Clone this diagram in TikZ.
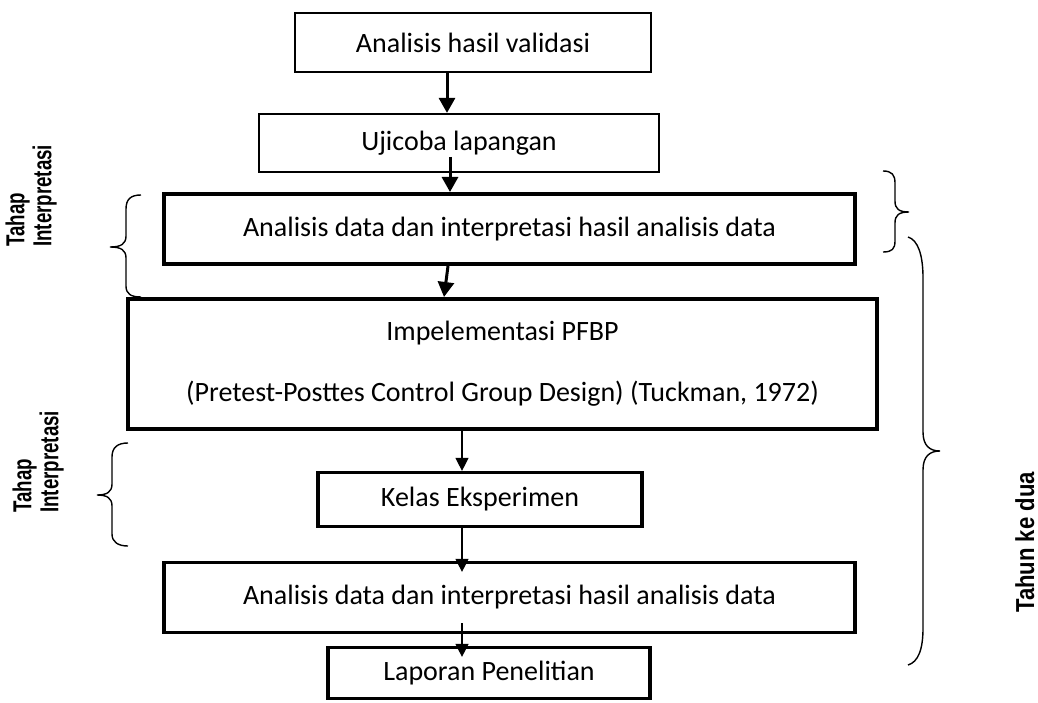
\documentclass[tikz,border=0pt]{standalone}
\usepackage{fontspec}
\usetikzlibrary{arrows.meta,calc}
\newfontfamily\boxfont{Carlito}
\newfontfamily\labfont{Liberation Sans}
\begin{document}
\begin{tikzpicture}[x=1pt,y=-1pt,
  box/.style={draw, line width=#1, inner sep=0pt, align=center,
    font=\boxfont\fontsize{28}{34}\selectfont},
  box/.default=2.2pt,
  heavyarrow/.style={line width=3pt, -{Triangle[length=15pt,width=16pt]}},
  lightarrow/.style={line width=1.3pt, -{Triangle[length=13pt,width=13pt]}},
  bracepath/.style={line width=1.4pt},
  sidelab/.style={rotate=90, xscale=#1, transform shape, inner sep=0pt, align=left,
    font=\labfont\bfseries\fontsize{26}{27}\selectfont},
  sidelab/.default=0.85]
\useasboundingbox (0,0) rectangle (1038,703);

% boxes
\node[box, minimum width=356pt, minimum height=59pt] (b1) at (473,42.5) {Analisis hasil validasi};
\node[box, minimum width=400pt, minimum height=58pt] (b2) at (459,143) {Ujicoba lapangan};
\node[box=4pt, minimum width=691pt, minimum height=70pt] (b3) at (509.5,229) {Analisis data dan interpretasi hasil analisis data};
\node[box=4pt, minimum width=749pt, minimum height=130pt] (b4) at (502.5,364) {Impelementasi PFBP\\[27pt](Pretest-Posttes Control Group Design) (Tuckman, 1972)};
\node[box=3.2pt, minimum width=324pt, minimum height=54pt] (b5) at (480,499.5) {Kelas Eksperimen};
\node[box=3.2pt, minimum width=691pt, minimum height=70pt] (b6) at (509.5,597.5) {Analisis data dan interpretasi hasil analisis data};
\node[box=3.2pt, minimum width=322pt, minimum height=51pt] (b7) at (489,673) {Laporan Penelitian};

% connector start points inside boxes
\coordinate (s2) at (450,157);
\coordinate (s6) at (462,623);
\coordinate (t3) at (444,297);

% connectors
\draw[heavyarrow] (447,0 |- b1.south) -- (447,0 |- b2.north);
\draw[heavyarrow] (s2) -- (450,0 |- b3.north);
\draw[heavyarrow] (448,0 |- b3.south) -- (t3);
\draw[lightarrow] (462,0 |- b4.south) -- (462,0 |- b5.north);
\draw[lightarrow] (462,0 |- b5.south) -- ($(462,0 |- b6.north)+(0,11)$);
\draw[lightarrow] (s6) -- ($(462,0 |- b7.north)+(0,11)$);

% left brace 1
\draw[bracepath] (141,195) .. controls (131,195) and (126,199) .. (126,209)
  -- (126,236) .. controls (126,244) and (121,247) .. (110,247)
  .. controls (121,247) and (126,250) .. (126,258)
  -- (126,286) .. controls (126,294) and (131,297) .. (141,297);
% left brace 2
\draw[bracepath] (128,443) .. controls (118,443) and (112,447) .. (112,457)
  -- (112,484) .. controls (112,492) and (107,495) .. (97,495)
  .. controls (107,495) and (112,498) .. (112,506)
  -- (112,534) .. controls (112,542) and (118,546) .. (128,546);
% right brace 1
\draw[bracepath] (883,171) .. controls (892,171) and (895,175) .. (895,183)
  -- (895,201) .. controls (895,209) and (899,212) .. (909,212)
  .. controls (899,212) and (895,215) .. (895,223)
  -- (895,241) .. controls (895,249) and (892,252) .. (883,252);
% right brace 2
\draw[bracepath] (908,237) .. controls (918,240) and (923,255) .. (923,278)
  -- (923,432) .. controls (923,446) and (930,451) .. (940,451)
  .. controls (930,451) and (923,456) .. (923,470)
  -- (923,628) .. controls (923,650) and (918,662) .. (908,665);

% side labels
\node[sidelab=0.72, anchor=south west] (l1) at (57,247) {Tahap\\Interpretasi};
\node[sidelab=0.72, anchor=south west] (l2) at (64,513) {Tahap\\Interpretasi};
\node[sidelab, anchor=base west] (l3) at (1034,613) {Tahun ke dua};
\end{tikzpicture}
\end{document}
